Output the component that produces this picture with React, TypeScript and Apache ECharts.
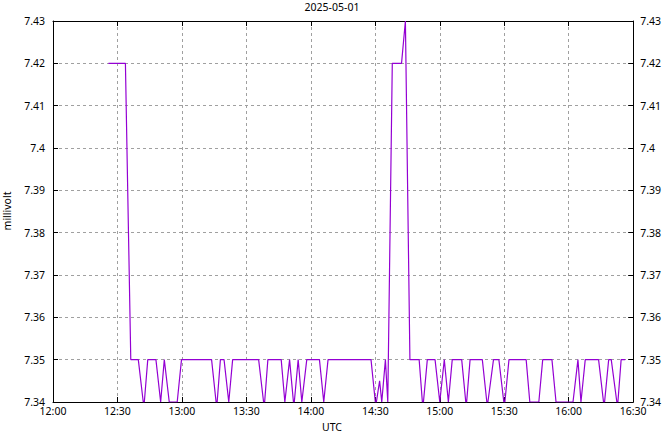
import React, { useEffect, useRef } from "react";
import * as echarts from "echarts";

const TITLE = "2025-05-01";
const Y_NAME = "millivolt";
const X_NAME = "UTC";

// time of each reading (UTC clock)
const times: string[] = [
  "12:25:48", "12:33:42", "12:36:12", "12:39:42", "12:42:00", "12:42:30", "12:44:06", "12:47:54",
  "12:50:06", "12:50:24", "12:51:48", "12:54:06", "12:57:48", "12:59:48", "13:13:48", "13:15:54",
  "13:16:24", "13:17:54", "13:19:36", "13:21:48", "13:22:06", "13:23:36", "13:35:42", "13:38:00",
  "13:38:30", "13:40:00", "13:46:12", "13:47:54", "13:48:06", "13:50:06", "13:51:54", "13:52:18",
  "13:54:06", "13:55:48", "13:56:06", "13:58:06", "14:04:00", "14:06:00", "14:06:12", "14:08:00",
  "14:28:00", "14:30:00", "14:30:30", "14:32:00", "14:33:00", "14:34:42", "14:35:48", "14:37:54",
  "14:42:12", "14:44:00", "14:44:12", "14:46:06", "14:50:24", "14:51:54", "14:52:24", "14:54:12",
  "14:57:48", "15:00:00", "15:00:18", "15:02:06", "15:04:00", "15:04:18", "15:05:48", "15:10:12",
  "15:12:06", "15:12:30", "15:14:06", "15:19:48", "15:21:54", "15:22:24", "15:25:00", "15:27:30",
  "15:29:48", "15:30:18", "15:32:12", "15:40:12", "15:41:54", "15:46:06", "15:47:54", "15:52:12",
  "15:54:06", "16:02:00", "16:04:18", "16:05:42", "16:07:42", "16:13:54", "16:16:12", "16:16:42",
  "16:18:36", "16:19:48", "16:22:24", "16:22:54", "16:24:24", "16:26:18",
];

// millivolt readings
const values: number[] = [
  7.42, 7.42, 7.35, 7.35, 7.34, 7.34, 7.35, 7.35,
  7.34, 7.34, 7.35, 7.34, 7.34, 7.35, 7.35, 7.34,
  7.34, 7.35, 7.35, 7.34, 7.34, 7.35, 7.35, 7.34,
  7.34, 7.35, 7.35, 7.34, 7.34, 7.35, 7.34, 7.34,
  7.35, 7.34, 7.34, 7.35, 7.35, 7.34, 7.34, 7.35,
  7.35, 7.34, 7.34, 7.345, 7.34, 7.35, 7.34, 7.42,
  7.42, 7.43, 7.43, 7.35, 7.35, 7.34, 7.34, 7.35,
  7.35, 7.34, 7.34, 7.35, 7.34, 7.34, 7.35, 7.35,
  7.34, 7.34, 7.35, 7.35, 7.34, 7.34, 7.35, 7.35,
  7.34, 7.34, 7.35, 7.35, 7.34, 7.34, 7.35, 7.35,
  7.34, 7.34, 7.35, 7.34, 7.35, 7.35, 7.34, 7.34,
  7.35, 7.35, 7.34, 7.34, 7.35, 7.35,
];

const X_MIN = "12:00";
const X_MAX = "16:30";
const X_STEP_MIN = 30;
const Y_MIN = 7.34;
const Y_MAX = 7.43;
const Y_STEP = 0.01;

const toMin = (s: string) => {
  const p = s.split(":").map(Number);
  return p[0] * 60 + p[1] + (p[2] || 0) / 60;
};
const fmtClock = (m: number) => {
  const h = Math.floor(Math.round(m) / 60);
  const mm = Math.round(m) % 60;
  return `${h}:${mm < 10 ? "0" : ""}${mm}`;
};
const fmtY = (v: number) => String(Number(v.toFixed(2)));

const FONT = "Noto Sans";

export default function App() {
  const ref = useRef<HTMLDivElement>(null);
  useEffect(() => {
    if (!ref.current) return;
    const chart = echarts.init(ref.current, undefined, { renderer: "svg" });
    const data = times.map((t, i) => [toMin(t), values[i]]);
    const gridLine = { show: true, lineStyle: { color: "#a0a0a0", type: [3, 3] as any, width: 1 } };
    const label = { color: "#000", fontFamily: FONT, fontSize: 10.5 };
    const xCommon = {
      type: "value" as const,
      min: toMin(X_MIN),
      max: toMin(X_MAX),
      interval: X_STEP_MIN,
      axisLine: { show: true, onZero: false, lineStyle: { color: "#000", width: 1 } },
      axisTick: { show: true, inside: true, length: 5, lineStyle: { color: "#000" } },
    };
    const yCommon = {
      type: "value" as const,
      min: Y_MIN,
      max: Y_MAX,
      interval: Y_STEP,
      axisLine: { show: true, onZero: false, lineStyle: { color: "#000", width: 1 } },
      axisTick: { show: true, inside: true, length: 5, lineStyle: { color: "#000" } },
    };
    chart.setOption({
      animation: false,
      backgroundColor: "#fff",
      title: {
        text: TITLE,
        left: "center",
        top: -4,
        textStyle: { fontFamily: FONT, fontSize: 10.5, fontWeight: "normal", color: "#000" },
      },
      grid: { left: 53, right: 29, top: 21, bottom: 30, containLabel: false },
      xAxis: [
        {
          ...xCommon,
          position: "bottom",
          splitLine: gridLine,
          axisLabel: { ...label, margin: 3, formatter: (v: number) => fmtClock(v) },
        },
        {
          ...xCommon,
          position: "top",
          splitLine: { show: false },
          axisLabel: { show: false },
        },
      ],
      yAxis: [
        {
          ...yCommon,
          position: "left",
          splitLine: gridLine,
          axisLabel: { ...label, margin: 8, formatter: (v: number) => fmtY(v) },
        },
        {
          ...yCommon,
          position: "right",
          splitLine: { show: false },
          axisLabel: { ...label, margin: 7, formatter: (v: number) => fmtY(v) },
        },
      ],
      graphic: [
        {
          type: "text",
          left: "center",
          top: 421,
          style: { text: X_NAME, fontFamily: FONT, fontSize: 10.5, fill: "#000" },
        },
        {
          type: "text",
          x: 7,
          y: 211,
          rotation: Math.PI / 2,
          style: {
            text: Y_NAME,
            fontFamily: FONT,
            fontSize: 10.5,
            fill: "#000",
            align: "center",
            verticalAlign: "middle",
          },
        },
      ],
      series: [
        {
          type: "line",
          data,
          showSymbol: false,
          symbol: "none",
          lineStyle: { color: "#9400d3", width: 1.2 },
          xAxisIndex: 0,
          yAxisIndex: 0,
          clip: true,
        },
      ],
    });
    return () => chart.dispose();
  }, []);
  return <div ref={ref} style={{ width: 664, height: 432, position: "fixed", left: 0, top: 0 }} />;
}
